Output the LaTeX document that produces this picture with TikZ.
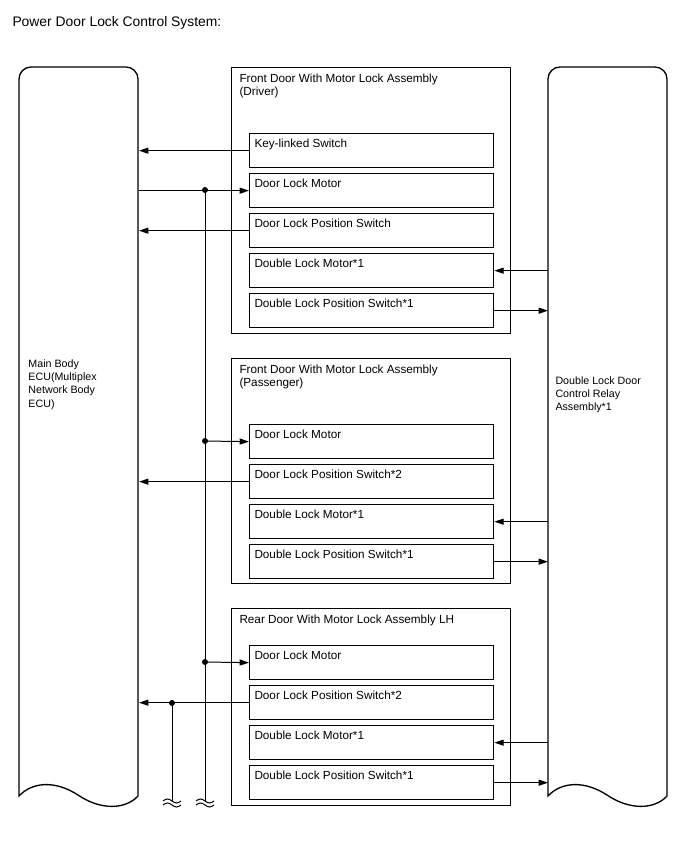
\documentclass[tikz,border=0pt]{standalone}
\usepackage{fontspec}
\setmainfont{Liberation Sans}
\usetikzlibrary{arrows.meta}
\begin{document}
\begin{tikzpicture}[x=0.75pt,y=-0.75pt,
 line width=0.75pt,
 part/.style={draw, line width=1pt, inner sep=0pt, minimum width=183pt, minimum height=25.5pt, anchor=north west},
 assy/.style={draw, line width=1pt, inner sep=0pt, minimum width=209.25pt, anchor=north west},
 ecubox/.style={inner sep=0pt, minimum width=89.25pt, minimum height=546.75pt, anchor=north west},
 ptxt/.style={inner sep=0pt, anchor=north west, align=left, font=\fontsize{8.8}{10.1}\selectfont},
 etxt/.style={inner sep=0pt, anchor=north west, align=left, font=\fontsize{8}{10}\selectfont},
 arr/.style={-{Triangle[length=7pt,width=4.5pt]}},
 dot/.style={circle, fill, inner sep=0pt, minimum size=4.5pt},
 brk/.pic={\draw (-9,0) sin (-4.5,-2) cos (0,0) sin (4.5,2) cos (9,0);
           \draw (-9,4) sin (-4.5,2) cos (0,4) sin (4.5,6) cos (9,4);},
]
\useasboundingbox (0,0) rectangle (688,852);

% title
\node[inner sep=0pt, anchor=base west, font=\fontsize{10.4}{12}\selectfont] (title) at (12,27) {Power Door Lock Control System:};

% ECUs
\node[ecubox] (ecuL) at (19,67) {};
\node[ecubox] (ecuR) at (548,67) {};
\draw[line width=1pt] (19,796) -- (19,79) .. controls (19,72.4) and (24.4,67) .. (31,67) -- (126,67)
  .. controls (132.6,67) and (138,72.4) .. (138,79) -- (138,796)
  .. controls (125,810) and (100,810) .. (78,795) .. controls (55,780) and (32,782) .. (19,796) -- cycle;
\draw[line width=1pt] (548,796) -- (548,79) .. controls (548,72.4) and (553.4,67) .. (560,67) -- (655,67)
  .. controls (661.6,67) and (667,72.4) .. (667,79) -- (667,796)
  .. controls (654,810) and (629,810) .. (607,795) .. controls (584,780) and (561,782) .. (548,796) -- cycle;
\node[etxt] (ecuLtxt) at (28,359) {Main Body\\ECU(Multiplex\\Network Body\\ECU)};
\node[etxt] (ecuRtxt) at (555,376) {Double Lock Door\\Control Relay\\Assembly*1};

% assemblies
\node[assy, minimum height=199.5pt] (A1) at (231,67) {};
\node[assy, minimum height=168.75pt] (A2) at (231,358) {};
\node[assy, minimum height=147.75pt] (A3) at (231,608) {};
\node[ptxt] (A1t) at ([shift={(8,6)}]A1.north west) {Front Door With Motor Lock Assembly\\(Driver)};
\node[ptxt] (A2t) at ([shift={(8,6)}]A2.north west) {Front Door With Motor Lock Assembly\\(Passenger)};
\node[ptxt] (A3t) at ([shift={(8,6)}]A3.north west) {Rear Door With Motor Lock Assembly LH};

% parts, assembly 1
\node[part] (ks)  at (249,133) {};
\node[part] (m1)  at (249,173) {};
\node[part] (p1)  at (249,213) {};
\node[part] (dm1) at (249,253) {};
\node[part] (dp1) at (249,293) {};
% assembly 2
\node[part] (m2)  at (249,424) {};
\node[part] (p2)  at (249,464) {};
\node[part] (dm2) at (249,504) {};
\node[part] (dp2) at (249,544) {};
% assembly 3
\node[part] (m3)  at (249,645) {};
\node[part] (p3)  at (249,685) {};
\node[part] (dm3) at (249,725) {};
\node[part] (dp3) at (249,765) {};

\foreach \n/\t in {ks/Key-linked Switch, m1/Door Lock Motor, p1/Door Lock Position Switch,
  dm1/Double Lock Motor*1, dp1/Double Lock Position Switch*1,
  m2/Door Lock Motor, p2/Door Lock Position Switch*2, dm2/Double Lock Motor*1, dp2/Double Lock Position Switch*1,
  m3/Door Lock Motor, p3/Door Lock Position Switch*2, dm3/Double Lock Motor*1, dp3/Double Lock Position Switch*1}
  {\node[ptxt] (\n t) at ([shift={(5,5.5)}]\n.north west) {\t};}

% junctions
\node[dot] (j1) at (205,190) {};
\node[dot] (j2) at (205,441) {};
\node[dot] (j3) at (205,662) {};
\node[dot] (j4) at (172,703) {};
\coordinate (b1) at (205,801);
\coordinate (b2) at (172,801);

% connectors to main body ECU
\draw[arr] (ks.west) -- (ks.west -| ecuL.east);
\draw[arr] (m1.west -| ecuL.east) -- (m1.west);
\draw[arr] (p1.west) -- (p1.west -| ecuL.east);
\draw[arr] (j2.center) -- (m2.west);
\draw[arr] (p2.west) -- (p2.west -| ecuL.east);
\draw[arr] (j3.center) -- (m3.west);
\draw[arr] (p3.west) -- (p3.west -| ecuL.east);
\draw (j1.center) -- (b1);
\draw (j4.center) -- (b2);
\pic at (b1) {brk};
\pic at (b2) {brk};

% connectors to relay
\draw[arr] (dm1.east -| ecuR.west) -- (dm1.east);
\draw[arr] (dp1.east) -- (dp1.east -| ecuR.west);
\draw[arr] (dm2.east -| ecuR.west) -- (dm2.east);
\draw[arr] (dp2.east) -- (dp2.east -| ecuR.west);
\draw[arr] (dm3.east -| ecuR.west) -- (dm3.east);
\draw[arr] (dp3.east) -- (dp3.east -| ecuR.west);
\end{tikzpicture}
\end{document}
